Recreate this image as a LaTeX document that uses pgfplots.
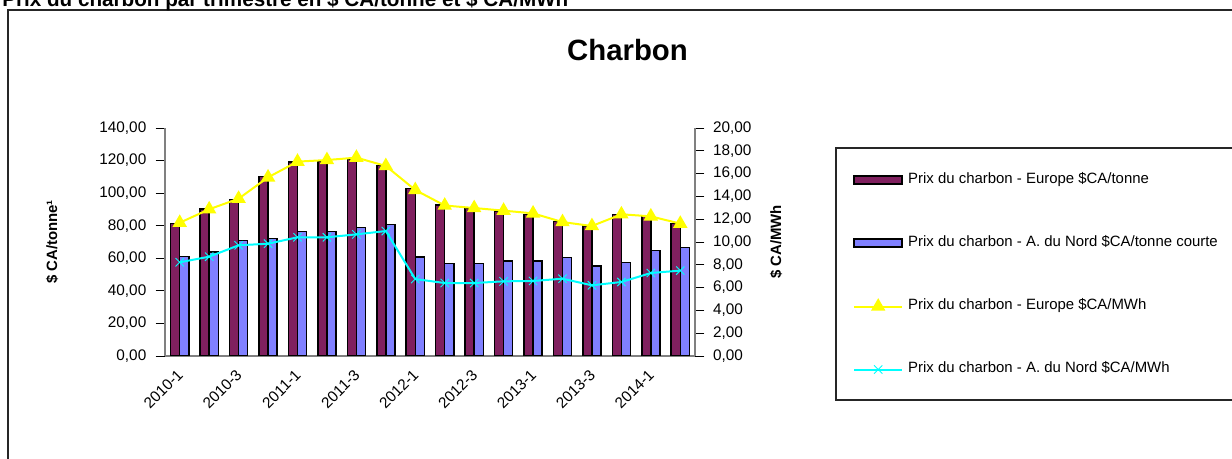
\documentclass[border=0pt]{standalone}
\usepackage{pgfplots}
\pgfplotsset{compat=1.18}
\usepackage{pgfplotstable}
\usepackage{fontspec}
\setmainfont{Liberation Sans}
\definecolor{maroonc}{HTML}{80205F}
\definecolor{bluec}{HTML}{8080FF}
\definecolor{yellowc}{HTML}{FFFF00}
\definecolor{cyanc}{HTML}{00FFFF}
\definecolor{axgray}{HTML}{808080}

\pgfplotstableread{
x eut nat eumwh namwh
0 81.5 61.0 11.69 8.22
1 90.3 63.9 12.87 8.71
2 96.2 70.8 13.80 9.71
3 110.1 72.3 15.67 9.85
4 119.1 76.5 17.05 10.41
5 119.5 76.5 17.19 10.41
6 120.8 78.8 17.40 10.67
7 117.1 80.9 16.67 10.96
8 102.7 60.8 14.56 6.75
9 92.7 56.9 13.20 6.40
10 90.7 56.9 12.98 6.40
11 89.0 58.3 12.75 6.55
12 87.0 58.3 12.51 6.58
13 82.5 60.4 11.75 6.78
14 79.8 55.3 11.40 6.20
15 87.0 57.3 12.43 6.49
16 85.5 64.9 12.25 7.28
17 81.5 66.5 11.61 7.49
}\datatable

\pgfplotsset{
  common/.style={
    scale only axis,
    width=397.5pt, height=171pt,
    at={(123.75pt,77.25pt)}, anchor=south west,
    xmin=-0.5, xmax=17.5,
    ymin=0,
    axis line style={axgray, line width=1.1pt},
    tick style={black, line width=0.6pt},
    tick label style={font=\fontsize{11.5pt}{13pt}\selectfont},
    /pgf/number format/assume math mode=true,
    yticklabel style={/pgf/number format/fixed, /pgf/number format/fixed zerofill, /pgf/number format/precision=2, /pgf/number format/use comma},
    major tick length=7pt,
    label style={font=\bfseries\fontsize{11.2pt}{13pt}\selectfont},
  }
}

\begin{document}
\begin{tikzpicture}
\useasboundingbox (0,0) rectangle (924pt,344.25pt);
\clip (0,0) rectangle (924pt,344.25pt);
% outer frame
\draw[line width=1pt, black!85] (6pt,-10pt) rectangle (945pt,336.75pt);
% top caption (cut off)
\node[anchor=base west, inner sep=0pt, font=\bfseries\fontsize{15.5pt}{18pt}\selectfont] at (1.5pt,339.5pt) {Prix du charbon par trimestre en \$ CA/tonne et \$ CA/MWh};
% title
\node[anchor=base, inner sep=0pt, font=\bfseries\fontsize{22pt}{26pt}\selectfont] at (470.6pt,298.5pt) {Charbon};
% legend frame
\draw[line width=0.8pt, black!85] (627pt,44.25pt) rectangle (935pt,233.25pt);

\begin{axis}[common,
  ymax=140,
  axis y line*=left,
  axis x line*=bottom,
  ytick={0,20,...,140},
  xtick={0,2,...,16},
  xticklabels={2010-1,2010-3,2011-1,2011-3,2012-1,2012-3,2013-1,2013-3,2014-1},
  minor xtick={-0.5,0.5,...,17.5},
  minor tick length=8.25pt,
  xtick style={draw=none},
  minor x tick style={black, line width=0.6pt},
  tick align=outside,
  xtick align=center,
  yticklabel style={xshift=-3.5pt},
  x tick label style={rotate=45, anchor=east, xshift=0pt, yshift=-4pt},
  ylabel={\$ CA/tonne¹},
  ylabel style={at={(axis description cs:-0.213,0.5)}, anchor=center},
  ybar=0pt, bar width=6.8pt,
]
\addplot[draw=black, line width=1.1pt, fill=maroonc] table[x=x, y=eut] {\datatable};
\addplot[draw=black, line width=1.1pt, fill=bluec] table[x=x, y=nat] {\datatable};
\end{axis}

\begin{axis}[common,
  ymax=20,
  axis y line*=right,
  axis x line=none,
  ytick={0,2,...,20},
  tick align=outside,
  yticklabel style={xshift=3pt},
  ylabel={\$ CA/MWh},
  ylabel style={at={(axis description cs:1.153,0.5)}, anchor=center},
  legend image code/.code={\draw[mark repeat=2,mark phase=2,#1] plot coordinates {(0pt,0pt) (18pt,0pt) (36pt,0pt)};},
  legend style={draw=none, fill=none, at={(axis description cs:1.298,0.80)}, anchor=north west,
    inner sep=0pt, row sep=37.25pt, column sep=3.75pt,
    nodes={inner sep=0pt, text height=7.5pt, text depth=2.5pt, font=\fontsize{11.2pt}{13pt}\selectfont},
    cells={anchor=west}},
]
\addlegendimage{legend image code/.code={\draw[fill=maroonc,draw=black,line width=1.1pt] (0pt,-2.5pt) rectangle (36pt,3.5pt);}}
\addlegendentry{Prix du charbon - Europe \$CA/tonne}
\addlegendimage{legend image code/.code={\draw[fill=bluec,draw=black,line width=1.1pt] (0pt,-2.5pt) rectangle (36pt,3.5pt);}}
\addlegendentry{Prix du charbon - A. du Nord \$CA/tonne courte}
\addplot[yellowc, line width=1.5pt, mark=triangle*, mark size=4.8pt, mark options={fill=yellowc, draw=yellowc}] table[x=x, y=eumwh] {\datatable};
\addlegendentry{Prix du charbon - Europe \$CA/MWh}
\addplot[cyanc, line width=1.5pt, mark=x, mark size=4.4pt, mark options={line width=0.7pt}] table[x=x, y=namwh] {\datatable};
\addlegendentry{Prix du charbon - A. du Nord \$CA/MWh}
\end{axis}
\end{tikzpicture}
\end{document}
